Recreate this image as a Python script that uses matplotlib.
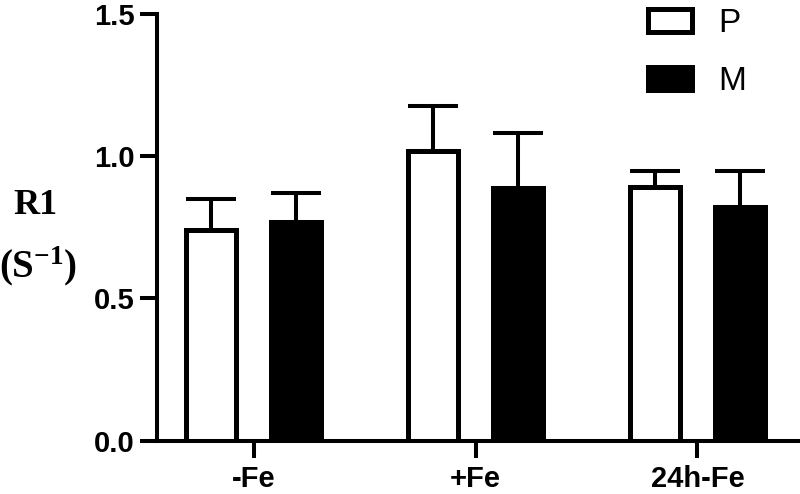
import matplotlib
matplotlib.use("Agg")
import matplotlib.pyplot as plt
import numpy as np
from matplotlib.patches import Patch

plt.rcParams['mathtext.fontset'] = 'custom'
plt.rcParams['mathtext.rm'] = 'Liberation Serif:bold'
plt.rcParams['mathtext.it'] = 'Liberation Serif:bold:italic'
plt.rcParams['mathtext.bf'] = 'Liberation Serif:bold'

categories = ['-Fe', '+Fe', '24h-Fe']
series_names = ['P', 'M']
p_values = [0.741, 1.019, 0.891]
p_errors = [0.108, 0.159, 0.058]
m_values = [0.768, 0.889, 0.820]
m_errors = [0.102, 0.194, 0.128]
y_ticks = [0.0, 0.5, 1.0, 1.5]

fig = plt.figure(figsize=(8, 4.94), dpi=100)
ax = fig.add_axes([0.196, 0.108, 0.8015, 0.8637])

x = np.arange(len(categories))
w = 0.225
off = 0.19
lw_edge = 3.6
lw_axis = 2.9

for vals, errs, dx, fc in [(p_values, p_errors, -off, 'white'),
                           (m_values, m_errors, off, 'black')]:
    ax.errorbar(x + dx, vals, yerr=[np.zeros(len(vals)), errs], fmt='none',
                ecolor='black', elinewidth=lw_axis, capsize=18, capthick=lw_axis,
                zorder=1)
    ax.bar(x + dx, vals, width=w, facecolor=fc, edgecolor='black',
           linewidth=lw_edge, zorder=2)

ax.set_xlim(-0.436, 2.453)
ax.set_ylim(0, 1.5)
ax.set_yticks(y_ticks)
ax.set_yticklabels([f'{t:.1f}' for t in y_ticks])
ax.set_xticks(x)
ax.set_xticklabels(categories)

for s in ['top', 'right']:
    ax.spines[s].set_visible(False)
for s in ['left', 'bottom']:
    ax.spines[s].set_linewidth(lw_axis)

ax.tick_params(axis='both', length=12.2, width=lw_axis, direction='out')
ax.tick_params(axis='y', pad=3.5)
ax.tick_params(axis='x', pad=5)
for lab in ax.get_yticklabels() + ax.get_xticklabels():
    lab.set_fontfamily('Liberation Sans')
    lab.set_fontweight('bold')
    lab.set_fontsize(21)

fig.text(35 / 800, 1 - 205 / 494, 'R1', ha='center', va='center',
         fontfamily='Liberation Serif', fontweight='bold', fontsize=26)
fig.text(38 / 800, 1 - 266 / 494, r'(S$^{\mathbf{-1}}$)', ha='center', va='center',
         fontfamily='Liberation Serif', fontweight='bold', fontsize=28)

handles = [Patch(facecolor='white', edgecolor='black', linewidth=lw_edge),
           Patch(facecolor='black', edgecolor='black', linewidth=lw_edge)]
leg = ax.legend(handles, series_names, loc='upper left',
                bbox_to_anchor=(640 / 800, 1.0), bbox_transform=fig.transFigure,
                frameon=False, prop={'family': 'Liberation Sans', 'size': 24},
                handlelength=1.3, handleheight=0.7, handletextpad=0.8,
                labelspacing=0.8, borderaxespad=0, borderpad=0.25)

fig.savefig('out.png', dpi=100)
